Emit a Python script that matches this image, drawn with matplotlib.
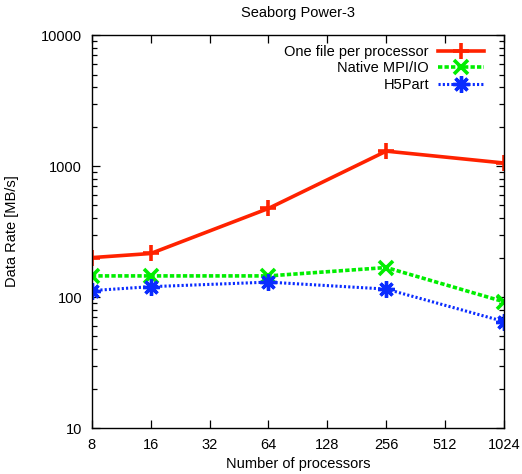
import matplotlib
matplotlib.use("Agg")
import matplotlib.pyplot as plt
from matplotlib.ticker import FixedLocator, LogLocator, NullFormatter, FixedFormatter

plt.rcParams['font.family'] = ['Liberation Sans', 'DejaVu Sans']

procs = [8, 16, 64, 256, 1024]
one_file = [200, 215, 475, 1300, 1055]
native_mpiio = [145, 145, 145, 168, 92]
h5part = [112, 120, 130, 115, 65]
xticks = [8, 16, 32, 64, 128, 256, 512, 1024]
yticks = [10, 100, 1000, 10000]

fig = plt.figure(figsize=(5.22, 4.74), dpi=100)
ax = fig.add_axes([0.176, 0.097, 0.7895, 0.829])

ax.plot(procs, one_file, color='#ff2200', lw=2.6, ls='-', marker='+', ms=12, mew=2.6,
        label='One file per processor')
ax.plot(procs, native_mpiio, color='#00ee00', lw=2.6, ls=(0, (1.2, 0.6)), marker='x', ms=10, mew=2.6,
        label='Native MPI/IO')
ax.plot(procs, h5part, color='#0a2cff', lw=2.2, ls=(0, (0.7, 0.7)), marker=(8, 2, 0), ms=12, mew=2.4,
        label='H5Part')

ax.set_xscale('log', base=2)
ax.set_yscale('log')
ax.set_xlim(8, 1024)
ax.set_ylim(10, 10000)
ax.xaxis.set_major_locator(FixedLocator(xticks))
ax.xaxis.set_major_formatter(FixedFormatter([str(v) for v in xticks]))
ax.xaxis.set_minor_locator(FixedLocator([]))
ax.yaxis.set_major_locator(FixedLocator(yticks))
ax.yaxis.set_major_formatter(FixedFormatter([str(v) for v in yticks]))
ax.yaxis.set_minor_locator(LogLocator(base=10, subs=range(2, 10)))
ax.yaxis.set_minor_formatter(NullFormatter())
ax.tick_params(which='both', direction='in', top=True, right=True, labelsize=10.5)
ax.tick_params(axis='x', pad=7)
ax.tick_params(axis='y', pad=7)
ax.tick_params(which='major', length=6, width=0.9)
ax.tick_params(which='minor', length=3.5, width=0.9)
for s in ax.spines.values():
    s.set_linewidth(1.0)

ax.set_xlabel('Number of processors', fontsize=10.5, labelpad=4)
ax.set_ylabel('Data Rate [MB/s]', fontsize=10.5, labelpad=16)
ax.set_title('Seaborg Power-3', fontsize=10.5, pad=13)

leg = ax.legend(loc='upper right', frameon=False, markerfirst=False, fontsize=10.5,
                handlelength=3.2, labelspacing=0.15, borderaxespad=0.3, handletextpad=0.6,
                bbox_to_anchor=(0.977, 1.0))
for t in leg.get_texts():
    t.set_ha('right')
leg._legend_box.align = 'right'

fig.savefig('out.png', dpi=100)
